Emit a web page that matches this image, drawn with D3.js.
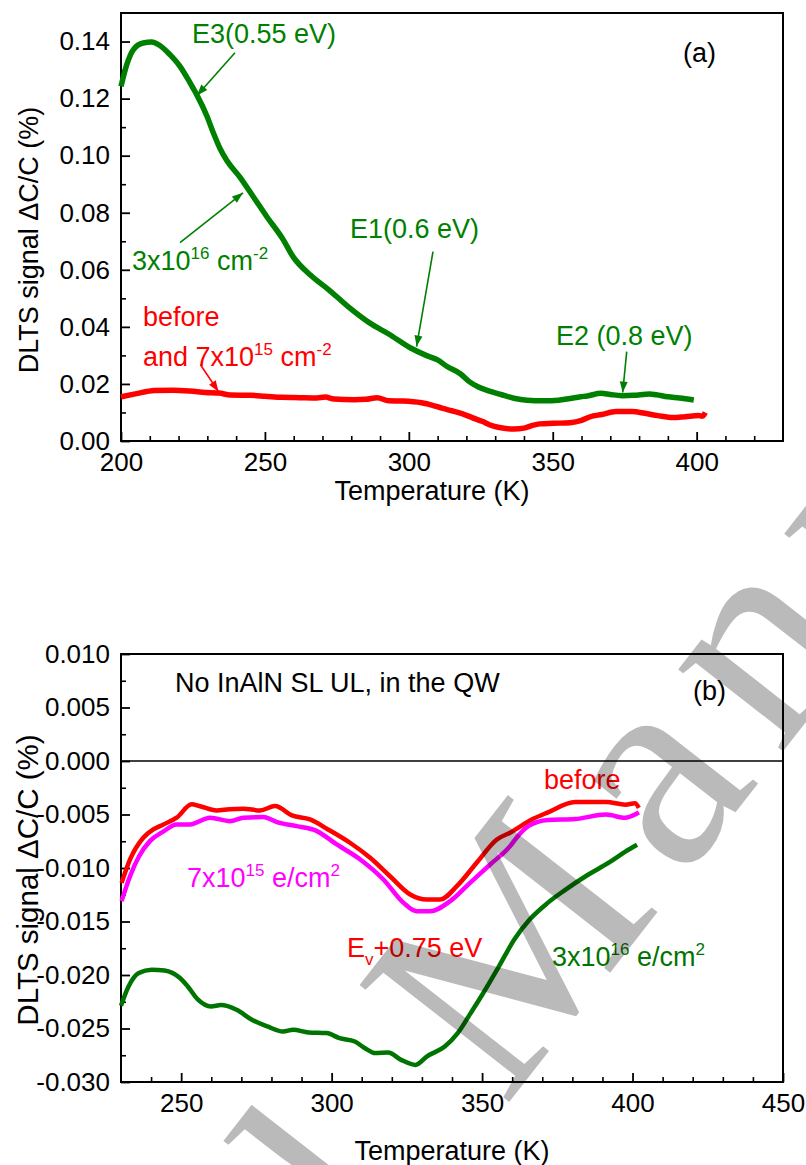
<!DOCTYPE html>
<html>
<head>
<meta charset="utf-8">
<script src="https://cdn.jsdelivr.net/npm/d3@7/dist/d3.min.js"></script>
<style>
  body { margin: 0; background: #fff; }
  svg { display: block; }
  text { font-family: "Liberation Sans", Arial, Helvetica, sans-serif; }
</style>
</head>
<body>
<svg id="chart" width="806" height="1165"></svg>
<script>
// ---------- Panel (a): DLTS spectra, electron traps ----------
const aXTicks = [200, 250, 300, 350, 400];
const aYTicks = [0.00, 0.02, 0.04, 0.06, 0.08, 0.10, 0.12, 0.14];

// 3x10^16 cm^-2
const aTemp3e16 = [200, 202, 204.3, 207.7, 210.6, 213.5, 217, 220.5, 224, 226.3, 229.8, 232, 234.4, 236.7,
  241.3, 245.9, 250.6, 256.4, 259.7, 266, 272.2, 279, 286.5, 293, 300.8, 306, 310, 313.3, 318, 321, 324,
  328, 332, 336.5, 341, 347, 352, 356, 359.7, 362, 366.8, 370, 374, 378, 383.7, 386, 390, 394, 399];
const aSig3e16 = [0.1243, 0.1319, 0.1372, 0.1395, 0.1398, 0.1386, 0.1354, 0.1313, 0.1255, 0.1214, 0.1140, 0.1082,
  0.1025, 0.0984, 0.0925, 0.0857, 0.0787, 0.0705, 0.0647, 0.0580, 0.0530, 0.0470, 0.0413, 0.0375, 0.0325,
  0.0300, 0.0284, 0.0261, 0.0235, 0.0208, 0.0190, 0.0175, 0.0163, 0.0150, 0.0143, 0.0141, 0.0143, 0.0149,
  0.0155, 0.0158, 0.0167, 0.0163, 0.0159, 0.0160, 0.0165, 0.0162, 0.0155, 0.0151, 0.0144];

// before and 7x10^15 cm^-2
const aTempBefore = [200, 205, 211.6, 218, 224, 229.4, 234, 238, 245, 250, 256, 262, 268, 271, 274, 281, 285,
  289, 293, 298, 304.4, 308, 311.5, 315, 318.7, 322, 325.7, 328, 331, 336.5, 340, 343, 345.5, 350, 356, 360,
  363, 367, 372, 377.6, 382, 386.5, 391.8, 396, 400.7, 402, 403];
const aSigBefore = [0.0155, 0.0165, 0.0177, 0.0178, 0.0175, 0.0170, 0.0168, 0.0161, 0.0160, 0.0157, 0.0153,
  0.0152, 0.0151, 0.0154, 0.0147, 0.0145, 0.0146, 0.0152, 0.0141, 0.0140, 0.0134, 0.0126, 0.0115, 0.0106,
  0.0095, 0.0082, 0.0068, 0.0057, 0.0048, 0.0042, 0.0045, 0.0055, 0.0060, 0.0062, 0.0064, 0.0072, 0.0085,
  0.0093, 0.0103, 0.0103, 0.0097, 0.0089, 0.0082, 0.0085, 0.0089, 0.0087, 0.0100];

// ---------- Panel (b): No InAlN SL UL, in the QW ----------
const bXTicks = [250, 300, 350, 400, 450];
const bYTicks = [0.010, 0.005, 0.000, -0.005, -0.010, -0.015, -0.020, -0.025, -0.030];

const bTempBefore = [230.2, 233, 237.4, 240.7, 244.1, 248.5, 253.5, 256, 261.8, 266, 270.7, 276.2, 281.2, 286.8,
  292.8, 298.4, 306.1, 312.8, 319.4, 326.1, 331.6, 336, 341.6, 348.2, 354.9, 359.3, 366.8, 371.9, 380.9, 391.2,
  397.6, 400.8, 402.1];
const bSigBefore = [-0.01139, -0.0092, -0.00717, -0.0064, -0.00593, -0.0053, -0.00405, -0.0042, -0.00462,
  -0.0045, -0.00446, -0.00462, -0.00421, -0.00509, -0.00546, -0.00633, -0.00764, -0.00905, -0.01077,
  -0.01248, -0.01295, -0.01295, -0.0117, -0.00951, -0.00733, -0.0067, -0.00543, -0.0048, -0.00383,
  -0.00383, -0.00408, -0.00396, -0.00438];

const bTemp7e15 = [230.2, 233, 236, 239.6, 244, 248.5, 252.9, 259.6, 266.2, 270.7, 277.3, 281.8, 288.4, 295.1,
  301.7, 309.5, 317.2, 323.9, 328.3, 332.7, 339.4, 346, 352.7, 359.3, 361.6, 365.5, 371.9, 380.9, 391.2, 397.6,
  400.8, 402.1];
const bSig7e15 = [-0.0131, -0.01077, -0.0089, -0.00749, -0.0066, -0.00593, -0.00593, -0.0053, -0.00562,
  -0.0053, -0.00524, -0.00571, -0.00609, -0.00655, -0.0078, -0.0092, -0.01107, -0.01326, -0.01404,
  -0.01404, -0.0131, -0.01139, -0.00967, -0.00796, -0.00712, -0.00607, -0.00552, -0.00543, -0.00501,
  -0.00531, -0.00501, -0.0048];

const bTemp3e16 = [230, 232.5, 235.9, 240.2, 244.5, 249.6, 252.2, 255.6, 259.9, 263.2, 268.4, 273.5, 278.7,
  283.8, 287.2, 292.3, 298.3, 302.6, 307.7, 311.1, 314.5, 318.8, 323.1, 327.9, 331.6, 337.6, 341.9, 346.2,
  350.4, 355.6, 360.7, 365.8, 371.8, 377.4, 384.8, 392.5, 397.6, 401.5];
const bSig3e16 = [-0.02287, -0.02107, -0.01981, -0.0195, -0.01957, -0.02028, -0.02107, -0.02231, -0.02294,
  -0.02281, -0.02325, -0.02418, -0.02481, -0.02528, -0.02512, -0.02537, -0.02543, -0.0259, -0.02622,
  -0.02684, -0.0273, -0.02725, -0.02793, -0.0284, -0.02762, -0.02668, -0.02543, -0.02356, -0.02168,
  -0.01919, -0.01669, -0.01482, -0.01326, -0.01209, -0.0107, -0.00943, -0.00847, -0.00783];

const RED = "#ff0000", MAGENTA = "#ff00ff", GREEN_A = "#008000", GREEN_B = "#007400";

const svg = d3.select("#chart");
const tickFont = 26, textFont = 27;

// Text with superscript / subscript runs: parts = [[string, "sup"|"sub"|""], ...]
function richText(parent, x, y, parts, color, size) {
  const t = parent.append("text").attr("x", x).attr("y", y)
    .attr("fill", color).style("font-size", size + "px");
  let shift = 0;
  parts.forEach(([s, kind]) => {
    let target = 0, fs = size;
    if (kind === "sup") { target = -Math.round(size * 0.4); fs = Math.round(size * 0.64); }
    if (kind === "sub") { target = Math.round(size * 0.3); fs = Math.round(size * 0.64); }
    t.append("tspan").attr("dy", target - shift).style("font-size", fs + "px").text(s);
    shift = target;
  });
  return t;
}

function arrow(parent, x1, y1, x2, y2, color) {
  parent.append("line").attr("x1", x1).attr("y1", y1).attr("x2", x2).attr("y2", y2)
    .attr("stroke", color).attr("stroke-width", 1.6);
  const ang = Math.atan2(y2 - y1, x2 - x1), L = 11, W = 4;
  const bx = x2 - L * Math.cos(ang), by = y2 - L * Math.sin(ang);
  const px = -Math.sin(ang) * W, py = Math.cos(ang) * W;
  parent.append("path")
    .attr("d", `M${x2},${y2}L${bx + px},${by + py}L${bx - px},${by - py}Z`)
    .attr("fill", color);
}

function panel(cfg) {
  const g = svg.append("g");
  const x = d3.scaleLinear().domain(cfg.xDomain).range([cfg.left, cfg.right]);
  const y = d3.scaleLinear().domain(cfg.yDomain).range([cfg.bottom, cfg.top]);
  const fmt = v => d3.format(cfg.yFmt)(v).replace("\u2212", "-");

  // minor ticks
  g.append("g").attr("transform", `translate(0,${cfg.bottom})`)
    .call(d3.axisBottom(x).tickValues(cfg.xMinor).tickSize(-5).tickFormat(""))
    .call(a => a.select(".domain").remove())
    .call(a => a.selectAll("line").attr("stroke-width", 1.6));
  g.append("g").attr("transform", `translate(${cfg.left},0)`)
    .call(d3.axisLeft(y).tickValues(cfg.yMinor).tickSize(-5).tickFormat(""))
    .call(a => a.select(".domain").remove())
    .call(a => a.selectAll("line").attr("stroke-width", 1.6));

  // major ticks + labels
  const ax = g.append("g").attr("transform", `translate(0,${cfg.bottom})`)
    .call(d3.axisBottom(x).tickValues(cfg.xTicks).tickSize(-9).tickPadding(12).tickFormat(d3.format("d")));
  ax.select(".domain").remove();
  ax.selectAll("line").attr("stroke-width", 1.8);
  ax.selectAll("text").attr("fill", "#000").style("font-size", tickFont + "px")
    .style("font-family", '"Liberation Sans", Arial, sans-serif');

  const ay = g.append("g").attr("transform", `translate(${cfg.left},0)`)
    .call(d3.axisLeft(y).tickValues(cfg.yTicks).tickSize(-9).tickPadding(11).tickFormat(fmt));
  ay.select(".domain").remove();
  ay.selectAll("line").attr("stroke-width", 1.8);
  ay.selectAll("text").attr("fill", "#000").style("font-size", tickFont + "px")
    .style("font-family", '"Liberation Sans", Arial, sans-serif');

  // frame
  g.append("rect").attr("x", cfg.left).attr("y", cfg.top)
    .attr("width", cfg.right - cfg.left).attr("height", cfg.bottom - cfg.top)
    .attr("fill", "none").attr("stroke", "#000").attr("stroke-width", 2);

  // axis titles
  g.append("text").attr("x", cfg.xTitleX).attr("y", cfg.xTitleY).attr("text-anchor", "middle")
    .style("font-size", textFont + "px").text("Temperature (K)");
  g.append("text").attr("transform", `translate(38,${cfg.yTitleY}) rotate(-90)`)
    .attr("text-anchor", "middle").style("font-size", cfg.yTitleSize + "px")
    .text("DLTS signal \u0394C/C (%)");

  return { g, x, y };
}

// ---------- draw panel (a) ----------
const A = panel({
  xDomain: [200, 430], yDomain: [0, 0.15],
  left: 121, right: 783, top: 13, bottom: 441,
  xTicks: aXTicks, yTicks: aYTicks,
  xMinor: d3.range(210, 430, 10).filter(v => v % 50 !== 0),
  yMinor: [0.01, 0.03, 0.05, 0.07, 0.09, 0.11, 0.13],
  yFmt: ".2f", xTitleX: 432, xTitleY: 500, yTitleY: 240, yTitleSize: 27
});

const lineA = d3.line().x(d => A.x(d[0])).y(d => A.y(d[1])).curve(d3.curveMonotoneX);
A.g.append("path").datum(d3.zip(aTempBefore, aSigBefore)).attr("d", lineA)
  .attr("fill", "none").attr("stroke", RED).attr("stroke-width", 5.5).attr("stroke-linejoin", "round");
A.g.append("path").datum(d3.zip(aTemp3e16, aSig3e16)).attr("d", lineA)
  .attr("fill", "none").attr("stroke", GREEN_A).attr("stroke-width", 5.5).attr("stroke-linejoin", "round");

// annotations (a)
richText(A.g, 192, 43, [["E3(0.55 eV)", ""]], GREEN_A, textFont);
arrow(A.g, A.x(239.6), A.y(0.1361), A.x(226.4), A.y(0.1211), GREEN_A);
richText(A.g, 132, 270, [["3x10", ""], ["16", "sup"], [" cm", ""], ["-2", "sup"]], GREEN_A, textFont);
arrow(A.g, A.x(220.5), A.y(0.0695), A.x(242.4), A.y(0.0870), GREEN_A);
richText(A.g, 350, 238, [["E1(0.6 eV)", ""]], GREEN_A, textFont);
arrow(A.g, A.x(308.4), A.y(0.0664), A.x(302.7), A.y(0.0331), GREEN_A);
richText(A.g, 556, 345, [["E2 (0.8 eV)", ""]], GREEN_A, textFont);
arrow(A.g, A.x(375.7), A.y(0.0313), A.x(374.3), A.y(0.0170), GREEN_A);
richText(A.g, 143, 326, [["before", ""]], RED, textFont);
richText(A.g, 143, 366, [["and 7x10", ""], ["15", "sup"], [" cm", ""], ["-2", "sup"]], RED, textFont);
arrow(A.g, A.x(227.6), A.y(0.0267), A.x(233.9), A.y(0.0173), RED);
richText(A.g, 683, 62, [["(a)", ""]], "#000", textFont);

// ---------- draw panel (b) ----------
const B = panel({
  xDomain: [230, 450], yDomain: [-0.030, 0.010],
  left: 121, right: 783, top: 654, bottom: 1082,
  xTicks: bXTicks, yTicks: bYTicks,
  xMinor: d3.range(240, 450, 10).filter(v => v % 50 !== 0),
  yMinor: [0.0075, 0.0025, -0.0025, -0.0075, -0.0125, -0.0175, -0.0225, -0.0275],
  yFmt: ".3f", xTitleX: 452, xTitleY: 1160, yTitleY: 880, yTitleSize: 29.5
});

B.g.append("line").attr("x1", B.x(230)).attr("x2", B.x(450))
  .attr("y1", B.y(0)).attr("y2", B.y(0)).attr("stroke", "#000").attr("stroke-width", 1.6);

const lineB = d3.line().x(d => B.x(d[0])).y(d => B.y(d[1])).curve(d3.curveMonotoneX);
B.g.append("path").datum(d3.zip(bTempBefore, bSigBefore)).attr("d", lineB)
  .attr("fill", "none").attr("stroke", RED).attr("stroke-width", 4.5).attr("stroke-linejoin", "round");
B.g.append("path").datum(d3.zip(bTemp7e15, bSig7e15)).attr("d", lineB)
  .attr("fill", "none").attr("stroke", MAGENTA).attr("stroke-width", 4.5).attr("stroke-linejoin", "round");
B.g.append("path").datum(d3.zip(bTemp3e16, bSig3e16)).attr("d", lineB)
  .attr("fill", "none").attr("stroke", GREEN_B).attr("stroke-width", 4.5).attr("stroke-linejoin", "round");

// annotations (b)
richText(B.g, 175, 692, [["No InAlN SL UL, in the QW", ""]], "#000", textFont);
richText(B.g, 693, 700, [["(b)", ""]], "#000", textFont);
richText(B.g, 544, 789, [["before", ""]], RED, textFont);
richText(B.g, 187, 887, [["7x10", ""], ["15", "sup"], [" e/cm", ""], ["2", "sup"]], MAGENTA, textFont);
richText(B.g, 347, 957, [["E", ""], ["v", "sub"], ["+0.75 eV", ""]], RED, textFont);
richText(B.g, 552, 966, [["3x10", ""], ["16", "sup"], [" e/cm", ""], ["2", "sup"]], GREEN_B, textFont);

// ---------- overlay stamp ----------
// Place the stamp so that the centre of its "M" sits at (mx, my).
const stampSize = 290, stampAngle = -52, mx = 508, my = 948, stampSpacing = 30;
const stamp = svg.append("text")
  .style("font-family", '"Liberation Serif", "Times New Roman", serif')
  .style("font-size", stampSize + "px")
  .style("letter-spacing", stampSpacing + "px")
  .attr("fill", "#000").attr("fill-opacity", 0.27)
  .text("Accepted Manuscript");
const node = stamp.node();
const mStart = node.getStartPositionOfChar(9).x, mEnd = node.getEndPositionOfChar(9).x;
const mMid = (mStart + mEnd) / 2 - stampSpacing / 2;
stamp.attr("transform",
  `translate(${mx},${my}) rotate(${stampAngle}) translate(${-mMid},${0.33 * stampSize})`);
</script>
</body>
</html>
